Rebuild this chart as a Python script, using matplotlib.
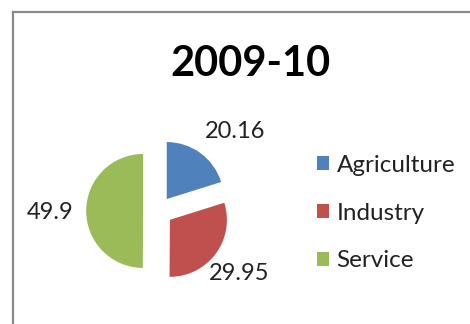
import numpy as np
import matplotlib
matplotlib.use("Agg")
import matplotlib.pyplot as plt
from matplotlib.lines import Line2D

plt.rcParams['font.family'] = ['Lato', 'DejaVu Sans']

title = "2009-10"
sectors = ["Agriculture", "Industry", "Service"]
shares = [20.16, 29.95, 49.9]
value_labels = ["20.16", "29.95", "49.9"]
colors = ["#4F81BD", "#C0504D", "#9BBB59"]

W, H, DPI = 470, 324, 100
fig = plt.figure(figsize=(W / DPI, H / DPI), dpi=DPI)
fig.patch.set_facecolor("white")

# axes over the whole canvas, 1 data unit = pie radius in pixels
R_PX = 57
cx, cy = 158, H - 211
ax = fig.add_axes([0, 0, 1, 1])

explode = [0.26] * len(shares)
wedges, _ = ax.pie(shares, colors=colors, startangle=90, counterclock=False,
                   explode=explode, radius=1.0,
                   wedgeprops=dict(linewidth=0))

# pie() resets the limits, so fix the view afterwards
ax.set_xlim(-cx / R_PX, (W - cx) / R_PX)
ax.set_ylim(-cy / R_PX, (H - cy) / R_PX)
ax.set_aspect("equal")
ax.axis("off")

# value labels outside each slice
label_dist = [1.95, 1.8, 1.9]
label_turn = [-8, -1, 1]
for w, txt, dist, turn in zip(wedges, value_labels, label_dist, label_turn):
    mid = np.deg2rad((w.theta1 + w.theta2) / 2 + turn)
    ax.text(dist * np.cos(mid), dist * np.sin(mid), txt, fontsize=17,
            ha="center", va="center", color="#222222")

fig.text(250 / W, 1 - 64 / H, title, fontsize=30, fontweight="bold",
         ha="center", va="center", color="black")

leg = ax.legend(wedges, sectors, loc="upper left",
                bbox_to_anchor=(317 / W, 1 - 155 / H),
                bbox_transform=fig.transFigure, frameon=False,
                fontsize=17.5, handlelength=0.5, handleheight=0.5,
                handletextpad=0.3, labelspacing=1.1, borderpad=0,
                borderaxespad=0)
for t in leg.get_texts():
    t.set_color("#222222")

# chart area border (left and top edges)
fig.add_artist(Line2D([13 / W, 13 / W], [0, 1 - 12 / H],
                      transform=fig.transFigure, color="#8a8a8a", lw=1.6))
fig.add_artist(Line2D([13 / W, 1], [1 - 12 / H, 1 - 12 / H],
                      transform=fig.transFigure, color="#8a8a8a", lw=1.6))

fig.savefig("out.png", dpi=DPI)
